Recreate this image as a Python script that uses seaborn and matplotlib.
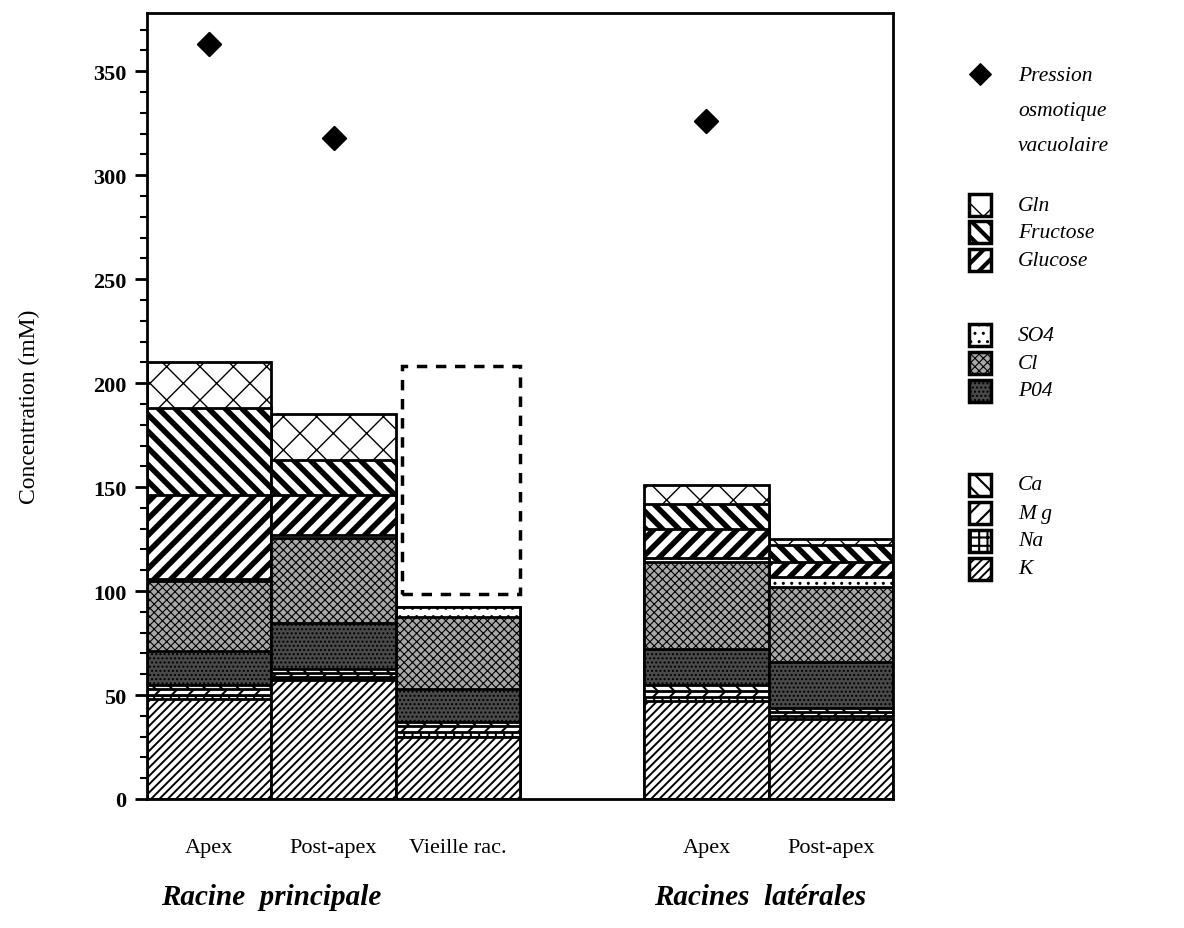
import numpy as np
import pandas as pd
import seaborn as sns
import matplotlib.pyplot as plt
from matplotlib.patches import Rectangle
from matplotlib.ticker import MultipleLocator

# --- data (mM) ---
site_keys = ["rp_apex", "rp_post", "rp_vieille", "rl_apex", "rl_post"]
site_labels = ["Apex", "Post-apex", "Vieille rac.", "Apex", "Post-apex"]
components = ["K", "Na", "Mg", "Ca", "PO4", "Cl", "SO4", "Glucose", "Fructose", "Gln"]

K = [48, 57, 30, 47, 38.5]
Na = [2, 1.5, 2, 2, 1.5]
Mg = [3, 2, 3, 3, 2]
Ca = [2, 2, 2, 3, 2]
PO4 = [16, 22, 16, 17, 22]
Cl = [34, 41, 34.5, 42, 36]
SO4 = [1, 1.5, 5, 2, 5]
Glucose = [40, 19, 0, 14, 7]
Fructose = [42, 17, 0, 12, 8]
Gln = [22, 22, 0, 9, 3]

osmo_sites = ["rp_apex", "rp_post", "rl_apex"]
osmo_values = [363, 318, 326]

# sugars not measured on old root: dashed outline only
vieille_box = (98.5, 208)

legend_labels = {"Gln": "Gln", "Fructose": "Fructose", "Glucose": "Glucose",
                 "SO4": "SO4", "Cl": "Cl", "PO4": "P04",
                 "Ca": "Ca", "Mg": "M g", "Na": "Na", "K": "K"}

# --- styles ---
styles = {
    "K":        dict(facecolor="white",   hatch="////", hlw=1.4),
    "Na":       dict(facecolor="white",   hatch="++",   hlw=1.5),
    "Mg":       dict(facecolor="white",   hatch="//",   hlw=1.5),
    "Ca":       dict(facecolor="white",   hatch="\\\\", hlw=1.5),
    "PO4":      dict(facecolor="#4a4a4a", hatch="....", hlw=1.0),
    "Cl":       dict(facecolor="#a8a8a8", hatch="xxxx", hlw=0.8),
    "SO4":      dict(facecolor="white",   hatch="..",   hlw=1.0),
    "Glucose":  dict(facecolor="white",   hatch="//",   hlw=4.0),
    "Fructose": dict(facecolor="white",   hatch="\\\\", hlw=4.0),
    "Gln":      dict(facecolor="white",   hatch="x",    hlw=1.0),
}

sns.set_style("ticks")
plt.rcParams["font.family"] = ["Liberation Serif", "DejaVu Serif"]
plt.rcParams.update({"text.color": "black", "axes.labelcolor": "black",
                     "xtick.color": "black", "ytick.color": "black"})

df = pd.DataFrame({"site": site_keys, "K": K, "Na": Na, "Mg": Mg, "Ca": Ca,
                   "PO4": PO4, "Cl": Cl, "SO4": SO4, "Glucose": Glucose,
                   "Fructose": Fructose, "Gln": Gln})
cum = df[components].cumsum(axis=1)
cum["site"] = df["site"]
order = site_keys[:3] + ["gap"] + site_keys[3:]

fig = plt.figure(figsize=(11.84, 9.29), dpi=100)
ax = fig.add_axes([147 / 1184, 1 - 800 / 929, (893 - 147) / 1184, (800 - 14) / 929])

# stacked bars: draw cumulative totals from top layer down
for comp in reversed(components):
    st = styles[comp]
    n_before = len(ax.patches)
    with plt.rc_context({"hatch.linewidth": st["hlw"]}):
        sns.barplot(data=cum, x="site", y=comp, order=order, ax=ax,
                    width=1.0, color=st["facecolor"], saturation=1,
                    edgecolor="black", linewidth=2, hatch=st["hatch"],
                    errorbar=None)
    for p in ax.patches[n_before:]:
        p.set_facecolor(st["facecolor"])
        if hasattr(p, "set_hatch_linewidth"):
            p.set_hatch_linewidth(st["hlw"])

# dashed box on old root
vi = order.index("rp_vieille")
ax.add_patch(Rectangle((vi - 0.45, vieille_box[0]), 0.95, vieille_box[1] - vieille_box[0],
                       fill=False, edgecolor="black", linewidth=2.5,
                       linestyle=(0, (3, 2.5))))

# osmotic pressure
osmo_df = pd.DataFrame({"site": osmo_sites, "val": osmo_values})
osmo_df["pos"] = [order.index(s) for s in osmo_sites]
sns.scatterplot(data=osmo_df, x="pos", y="val", marker="D", s=140,
                color="black", edgecolor="black", linewidth=1.5, ax=ax, zorder=5)

ax.set_xlim(-0.5, len(order) - 0.5)
ax.set_ylim(0, 378)
ax.set_xlabel("")
ax.set_ylabel("Concentration (mM)", fontsize=17, labelpad=38)
ax.set_xticks([order.index(s) for s in site_keys])
ax.set_xticklabels(site_labels, fontsize=16)
ax.tick_params(axis="x", length=0, pad=28)
ax.yaxis.set_major_locator(MultipleLocator(50))
ax.yaxis.set_minor_locator(MultipleLocator(10))
ax.tick_params(axis="y", which="major", length=9, width=2, direction="out", labelsize=16, pad=6)
ax.tick_params(axis="y", which="minor", length=5, width=1.5, direction="out")
for lbl in ax.get_yticklabels():
    lbl.set_fontweight("bold")
for sp in ax.spines.values():
    sp.set_visible(True)
    sp.set_linewidth(2)
    sp.set_color("black")

# group labels
fig.text(271 / 1184, 1 - 898 / 929, "Racine  principale", fontsize=21, fontweight="bold",
         fontstyle="italic", ha="center", va="center")
fig.text(760 / 1184, 1 - 898 / 929, "Racines  latérales", fontsize=21, fontweight="bold",
         fontstyle="italic", ha="center", va="center")

# legend drawn in figure pixel coords
lax = fig.add_axes([0, 0, 1, 1])
lax.set_xlim(0, 1184)
lax.set_ylim(929, 0)
lax.axis("off")
lax.scatter([980], [75], marker="D", s=120, color="black")
for i, line in enumerate(["Pression", "osmotique", "vacuolaire"]):
    lax.text(1018, 76 + i * 35, line, fontsize=15.5, fontstyle="italic", va="center")

legend_rows = [("Gln", 206), ("Fructose", 233), ("Glucose", 261),
               ("SO4", 336), ("Cl", 364), ("PO4", 392),
               ("Ca", 486), ("Mg", 514), ("Na", 542), ("K", 570)]
for comp, yc in legend_rows:
    st = styles[comp]
    with plt.rc_context({"hatch.linewidth": min(st["hlw"], 3)}):
        r = Rectangle((969, yc - 11), 22, 22, facecolor=st["facecolor"], hatch=st["hatch"],
                      edgecolor="black", linewidth=2.5)
    if hasattr(r, "set_hatch_linewidth"):
        r.set_hatch_linewidth(min(st["hlw"], 3))
    lax.add_patch(r)
    lax.text(1018, yc, legend_labels[comp], fontsize=15.5, fontstyle="italic", va="center")

fig.savefig("out.png", dpi=100, facecolor="white")
